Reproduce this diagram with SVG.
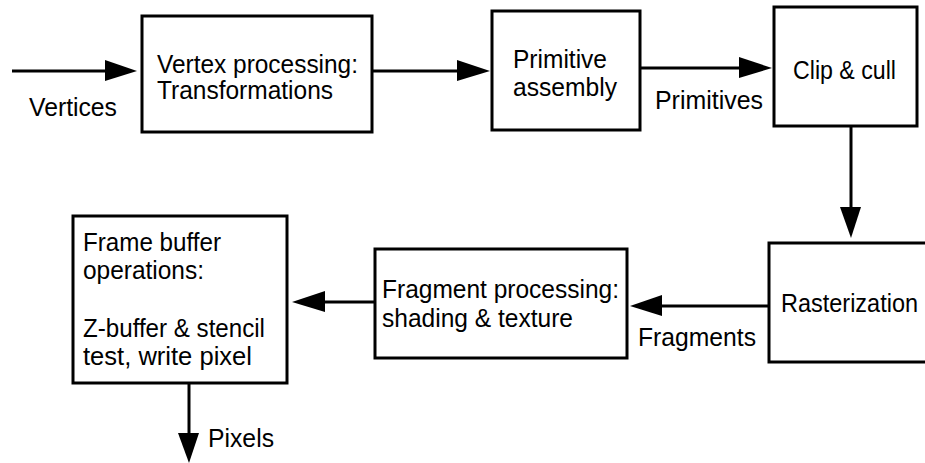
<svg xmlns="http://www.w3.org/2000/svg" width="925" height="463" viewBox="0 0 925 463">
<style>
.box{fill:#fff;stroke:#000;stroke-width:3}
.ln{fill:none;stroke:#000;stroke-width:3}
.ah{fill:#000;stroke:none}
text{font-family:"Liberation Sans",Arial,sans-serif;font-size:25px;fill:#000}
</style>
<rect width="925" height="463" fill="#fff"/>
<g id="connectors">
<line class="ln" x1="12" y1="71" x2="110" y2="71"/>
<polygon class="ah" points="105,60 137,71 105,81"/>
<text x="29" y="116" textLength="88" lengthAdjust="spacingAndGlyphs">Vertices</text>
<line class="ln" x1="372" y1="71" x2="462" y2="71"/>
<polygon class="ah" points="457,60 490,71 457,81"/>
<line class="ln" x1="640" y1="68" x2="744" y2="68"/>
<polygon class="ah" points="739,57 772,68 739,78"/>
<text x="655" y="109" textLength="108" lengthAdjust="spacingAndGlyphs">Primitives</text>
<line class="ln" x1="851" y1="126" x2="851" y2="212"/>
<polygon class="ah" points="840,207 851,238 861,207"/>
<line class="ln" x1="769" y1="306" x2="656" y2="306"/>
<polygon class="ah" points="662,295 630,306 662,316"/>
<text x="638" y="346" textLength="118" lengthAdjust="spacingAndGlyphs">Fragments</text>
<line class="ln" x1="375" y1="302" x2="320" y2="302"/>
<polygon class="ah" points="325,291 292,302 325,312"/>
<line class="ln" x1="189" y1="383" x2="189" y2="438"/>
<polygon class="ah" points="178,433 189,463 199,433"/>
<text x="208" y="447" textLength="66" lengthAdjust="spacingAndGlyphs">Pixels</text>
</g>
<g id="vertex">
<rect class="box" x="142" y="16" width="230" height="116"/>
<text x="157" y="73" textLength="201" lengthAdjust="spacingAndGlyphs">Vertex processing:</text>
<text x="157" y="99" textLength="176" lengthAdjust="spacingAndGlyphs">Transformations</text>
</g>
<g id="primitive">
<rect class="box" x="492" y="11" width="148" height="119"/>
<text x="513" y="68" textLength="94" lengthAdjust="spacingAndGlyphs">Primitive</text>
<text x="513" y="96" textLength="104" lengthAdjust="spacingAndGlyphs">assembly</text>
</g>
<g id="clip">
<rect class="box" x="774" y="7" width="143" height="119"/>
<text x="793" y="79" textLength="103" lengthAdjust="spacingAndGlyphs">Clip &amp; cull</text>
</g>
<g id="raster">
<rect class="box" x="769" y="243" width="170" height="119"/>
<text x="781" y="312" textLength="137" lengthAdjust="spacingAndGlyphs">Rasterization</text>
</g>
<g id="fragment">
<rect class="box" x="375" y="249" width="252" height="109"/>
<text x="382" y="298" textLength="237" lengthAdjust="spacingAndGlyphs">Fragment processing:</text>
<text x="382" y="327" textLength="191" lengthAdjust="spacingAndGlyphs">shading &amp; texture</text>
</g>
<g id="framebuffer">
<rect class="box" x="73" y="216" width="214" height="167"/>
<text x="83" y="251" textLength="138" lengthAdjust="spacingAndGlyphs">Frame buffer</text>
<text x="83" y="279" textLength="121" lengthAdjust="spacingAndGlyphs">operations:</text>
<text x="83" y="337" textLength="182" lengthAdjust="spacingAndGlyphs">Z-buffer &amp; stencil</text>
<text x="83" y="365" textLength="169" lengthAdjust="spacingAndGlyphs">test, write pixel</text>
</g>
</svg>
